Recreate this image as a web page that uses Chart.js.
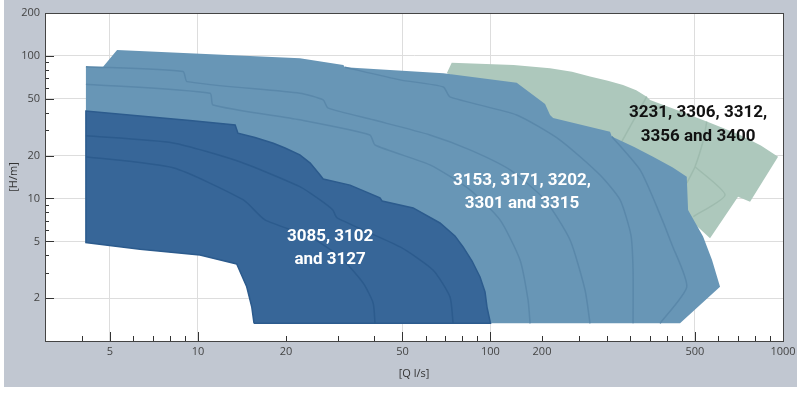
<!DOCTYPE html>
<html><head><meta charset="utf-8">
<script src="https://cdn.jsdelivr.net/npm/chart.js@4/dist/chart.umd.min.js"></script>
<style>html,body{margin:0;padding:0;background:#fff}#wrap{width:803px;height:395px}</style>
</head><body><div id="wrap"><canvas id="c" width="803" height="395"></canvas></div>
<script>
// ---- axes ----
const xRange = [3, 1000];
const yRange = [1, 200];
const xTickValues = [4,5,6,7,8,9,10,20,30,40,50,60,70,80,90,100,150,200,250,300,350,400,450,500,600,700,800,900,1000];
const xTickLabels = {5:'5',10:'10',20:'20',50:'50',100:'100',150:'200',500:'500',1000:'1000'};
const xGridValues = [5,10,50,100,500];
const yTickValues = [1,2,3,4,5,6,7,8,9,10,20,30,40,50,60,70,80,90,100,200];
const yTickLabels = {2:'2',5:'5',10:'10',20:'20',50:'50',100:'100',200:'200'};
const yGridValues = [2,5,10,20,50,100];

// ---- regions: [Q l/s, H m] ----
const greenOutline = [[70.9,75.6],[73.7,89.7],[120,86.5],[159.8,82.0],[190,77.5],[218.9,71.6],[252,67.0],[283.9,62.6],[315,57.5],[342.1,51.8],[351.2,49.1],[450,40.5],[548.7,34.6],[630,31.0],[713.2,27.9],[840,23.5],[961.8,19.65],[771.7,9.49],[702,10.3],[563.1,5.26],[468.8,7.45],[236.9,21.9],[126.2,49.1]];
const greenLines = [
  [[342.1,51.8],[281,25.0]],
  [[548.7,34.6],[534.3,25.7],[500.3,16.7],[468.8,12.8]],
  [[500.3,16.7],[633.7,10.58],[493.7,7.45]]
];
const lightOutline = [[4.14,84.1],[4.74,84.1],[5.29,110.2],[22.3,96.3],[31.4,86.5],[31.8,83.3],[69.0,75.6],[122.9,64.9],[153.7,46.0],[159.8,38.5],[163.7,36.7],[256.3,29.4],[259.8,27.2],[310,23.0],[359.5,19.6],[420,16.5],[468.8,14.2],[473.7,8.30],[533.0,5.40],[572,3.70],[609.2,2.40],[444.6,1.33],[15.55,1.33],[15.27,1.74],[14.68,2.40],[13.57,3.47],[10.16,4.01],[6.34,4.40],[4.14,4.90]];
const lightLines = [
  [[4.14,84.1],[8.89,77.6],[9.18,66.0],[22.3,54.7],[26.8,49.1],[27.8,43.2],[39.7,35.6],[62.1,27.9],[85.1,21.9],[116.7,15.85],[153.7,9.76],[187.1,5.11],[210.5,2.28],[218.9,1.33]],
  [[4.14,63.3],[11.0,54.7],[11.26,45.3],[22.3,35.6],[38.7,27.9],[40.3,23.7],[62.1,17.2],[85.1,11.5],[107.8,7.07],[126.2,3.70],[134.4,1.94],[136.6,1.33]],
  [[31.8,83.3],[49.1,67.9],[69.0,60.6],[72.7,51.6],[122.9,38.5],[172.9,25.7],[236.9,14.6],[277.4,9.76],[302,5.55],[307.2,3.15],[307.2,1.33]],
  [[259.8,27.2],[324.6,15.85],[370.2,8.76],[417.6,4.72],[468.8,2.40],[379.9,1.33]]
];
const darkOutline = [[15.55,1.33],[15.27,1.74],[14.68,2.40],[13.57,3.47],[10.16,4.01],[6.34,4.40],[4.14,4.90],[4.14,41.1],[6.34,37.9],[9.39,35.2],[13.4,32.8],[13.7,28.7],[15.67,26.8],[18.1,24.4],[19.85,22.6],[22.3,20.2],[24.2,17.7],[26.15,14.6],[26.8,13.7],[33.1,12.4],[41.9,10.1],[42.6,9.6],[54.4,8.58],[67.2,6.73],[75.6,5.46],[80.6,4.57],[86.5,3.64],[92.1,2.81],[95.8,2.21],[97.3,1.73],[100,1.33]];
const darkLines = [
  [[4.14,27.5],[8.22,24.5],[13.9,18.1],[22.3,12.1],[26.15,9.76],[28.9,8.30],[29.9,7.30],[49.1,4.57],[63.6,3.15],[72.7,2.04],[74.5,1.33]],
  [[4.14,19.6],[8.22,16.4],[14.3,9.76],[16.95,7.07],[24.2,5.37],[30.6,3.89],[36.7,2.55],[39.7,1.85],[40.3,1.33]]
];

// ---- labels: text lines anchored at [Q, H] ----
const regionLabels = [
  {lines:['3085, 3102','and 3127'], at:[[28.3,5.55],[28.3,3.82]], color:'#ffffff'},
  {lines:['3153, 3171, 3202,','3301 and 3315'], at:[[128.2,13.7],[128.2,9.45]], color:'#ffffff'},
  {lines:['3231, 3306, 3312,','3356 and 3400'], at:[[512.4,41.1],[512.4,28.1]], color:'#111111'}
];

const colors = {green:'#adc8bc', greenLine:'#9ebbae', light:'#6896b6', lightLine:'#5a88aa', dark:'#376698', darkLine:'#2c5b8d'};

const pts = a => a.map(p => ({x:p[0], y:p[1]}));
const datasets = [];
function addShape(outline, fill, border, bw, order){
  datasets.push({data:pts(outline.concat([outline[0]])), backgroundColor:fill, borderColor:border, borderWidth:bw, fill:'shape', pointRadius:0, tension:0, order});
}
function addLines(lines, color, order){
  lines.forEach(l => datasets.push({data:pts(l), borderColor:color, borderWidth:1.5, fill:false, pointRadius:0, tension:0.2, order}));
}
addShape(greenOutline, colors.green, colors.green, 0, 6);
addLines(greenLines, colors.greenLine, 5);
addShape(lightOutline, colors.light, colors.light, 0, 4);
addLines(lightLines, colors.lightLine, 3);
addShape(darkOutline, colors.dark, colors.darkLine, 1.5, 2);
addLines(darkLines, colors.darkLine, 1);

const frame = {
  id:'frame',
  beforeDraw(chart){
    const {ctx, chartArea:a} = chart;
    ctx.save();
    ctx.fillStyle='#ffffff'; ctx.fillRect(0,0,chart.width,chart.height);
    ctx.fillStyle='#c1c7d1'; ctx.fillRect(4,0,793,387);
    ctx.fillStyle='#ffffff'; ctx.fillRect(a.left,a.top,a.right-a.left,a.bottom-a.top);
    ctx.restore();
  },
  afterDatasetsDraw(chart){
    const {ctx, scales:{x,y}} = chart;
    ctx.save();
    ctx.font = 'bold 17px Roboto';
    ctx.textAlign='center'; ctx.textBaseline='middle';
    regionLabels.forEach(r => {
      ctx.fillStyle=r.color;
      r.lines.forEach((t,i)=>ctx.fillText(t, x.getPixelForValue(r.at[i][0]), y.getPixelForValue(r.at[i][1])+2));
    });
    ctx.restore();
  },
  afterDraw(chart){
    const {ctx, chartArea:a, scales:{x,y}} = chart;
    ctx.save();
    ctx.strokeStyle='#333'; ctx.lineWidth=1;
    ctx.beginPath();
    xTickValues.forEach(v=>{const px=Math.round(x.getPixelForValue(v))+0.5; const len=(xGridValues.includes(v)||v===1000)?9:5; ctx.moveTo(px,a.bottom); ctx.lineTo(px,a.bottom-len);});
    yTickValues.forEach(v=>{const py=Math.round(y.getPixelForValue(v))+0.5; const len=(yGridValues.includes(v)||v===200)?9:4; ctx.moveTo(a.left,py); ctx.lineTo(a.left+len,py);});
    ctx.stroke();
    ctx.strokeStyle='#444';
    ctx.strokeRect(Math.round(a.left)+0.5, Math.round(a.top)+0.5, Math.round(a.right-a.left), Math.round(a.bottom-a.top));
    ctx.restore();
  }
};

new Chart(document.getElementById('c'), {
  type:'line',
  data:{datasets},
  plugins:[frame],
  options:{
    responsive:false, animation:false, devicePixelRatio:1, events:[],
    layout:{padding:{left:4, top:13, right:20, bottom:8}},
    plugins:{legend:{display:false}, tooltip:{enabled:false}},
    scales:{
      x:{type:'logarithmic', min:xRange[0], max:xRange[1],
        afterBuildTicks:s=>{s.ticks = xTickValues.map(v=>({value:v}));},
        afterFit:s=>{s.height=46;},
        grid:{drawTicks:false, color:c=>xGridValues.includes(c.tick && c.tick.value)?'#dddddd':'rgba(0,0,0,0)', lineWidth:1},
        border:{display:true, color:'#333', width:1},
        ticks:{autoSkip:false, maxRotation:0, padding:4, color:'#444', font:{family:'Open Sans', size:11}, callback:v=>xTickLabels[v]||''},
        title:{display:true, text:'[Q l/s]', color:'#333', font:{family:'Open Sans', size:11}, padding:{top:0,bottom:7}}
      },
      y:{type:'logarithmic', min:yRange[0], max:yRange[1],
        afterBuildTicks:s=>{s.ticks = yTickValues.map(v=>({value:v}));},
        afterFit:s=>{s.width=41;},
        grid:{drawTicks:false, color:c=>yGridValues.includes(c.tick && c.tick.value)?'#dddddd':'rgba(0,0,0,0)', lineWidth:1},
        border:{display:true, color:'#333', width:1},
        ticks:{autoSkip:false, padding:5, color:'#444', font:{family:'Open Sans', size:11}, callback:v=>yTickLabels[v]||''},
        title:{display:true, text:'[H/m]', color:'#333', font:{family:'Open Sans', size:11}, padding:{top:3,bottom:0}}
      }
    }
  }
});
</script></body></html>
